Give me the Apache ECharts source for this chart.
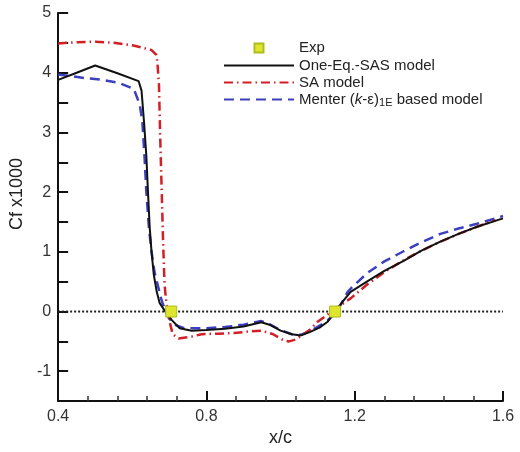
<!DOCTYPE html>
<html>
<head>
<meta charset="utf-8">
<script src="https://cdn.jsdelivr.net/npm/echarts@6/dist/echarts.min.js"></script>
<style>
html,body{margin:0;padding:0;background:#fff;}
#chart{width:520px;height:452px;}
</style>
</head>
<body>
<div id="chart"></div>
<script>
// ---- Data ----
const sasX = [0.40,0.45,0.50,0.56,0.617,0.625,0.632,0.638,0.642,0.647,0.652,0.658,0.666,0.674,0.687,0.706,0.728,0.76,0.80,0.85,0.90,0.948,0.97,1.00,1.03,1.055,1.08,1.105,1.127,1.149,1.168,1.189,1.235,1.28,1.332,1.38,1.431,1.48,1.53,1.60];
const sasY = [3.88,4.00,4.12,3.99,3.86,3.70,3.15,2.60,2.05,1.41,1.00,0.62,0.33,0.14,0.02,-0.14,-0.28,-0.32,-0.31,-0.29,-0.25,-0.18,-0.22,-0.32,-0.38,-0.40,-0.34,-0.27,-0.17,0.01,0.17,0.33,0.51,0.68,0.85,1.02,1.17,1.30,1.42,1.56];

const saX = [0.40,0.45,0.50,0.55,0.60,0.652,0.665,0.668,0.672,0.675,0.679,0.683,0.687,0.692,0.700,0.709,0.725,0.76,0.787,0.83,0.875,0.92,0.948,0.98,1.01,1.023,1.04,1.055,1.08,1.10,1.125,1.144,1.17,1.189,1.235,1.28,1.332,1.38,1.431,1.48,1.53,1.58];
const saY = [4.49,4.51,4.52,4.50,4.46,4.38,4.30,4.15,3.80,3.00,2.10,1.20,0.46,0.14,-0.15,-0.38,-0.45,-0.42,-0.38,-0.37,-0.36,-0.33,-0.32,-0.38,-0.49,-0.50,-0.47,-0.41,-0.30,-0.17,-0.06,0.03,0.14,0.22,0.46,0.66,0.86,1.02,1.17,1.30,1.42,1.53];

const menterX = [0.40,0.473,0.52,0.564,0.604,0.62,0.627,0.633,0.638,0.645,0.652,0.660,0.679,0.69,0.700,0.714,0.74,0.80,0.85,0.90,0.948,0.97,1.00,1.03,1.055,1.082,1.11,1.127,1.145,1.162,1.181,1.195,1.235,1.28,1.332,1.38,1.431,1.48,1.53,1.60];
const menterY = [3.97,3.91,3.88,3.83,3.73,3.47,3.20,2.60,2.00,1.40,1.00,0.66,0.19,0.00,-0.12,-0.22,-0.28,-0.28,-0.26,-0.22,-0.16,-0.21,-0.31,-0.38,-0.39,-0.32,-0.22,-0.15,-0.04,0.11,0.33,0.42,0.65,0.84,1.01,1.16,1.30,1.39,1.47,1.60];

const expX = [0.705, 1.147];
const expY = [0, 0];

const zeroX = [0.4, 1.6];
const zeroY = [0, 0];

const seriesNames = ['Exp', 'One-Eq.-SAS model', 'SA model', 'Menter (k-\u03b5)1E based model'];

const xMin = 0.4, xMax = 1.6, xInterval = 0.4;
const yMin = -1.5, yMax = 5, yInterval = 0.5;

// ---- Build ----
function pairs(xs, ys){ return xs.map((x,i)=>[x, ys[i]]); }

const FONT = '"Liberation Sans", Arial, Helvetica, sans-serif';
const chart = echarts.init(document.getElementById('chart'), null, {renderer:'canvas'});

const hiddenSymbol = { opacity: 0 };

const option = {
  animation: false,
  backgroundColor: '#ffffff',
  textStyle: { fontFamily: FONT },
  grid: { left: 56, right: 17, top: 13, bottom: 29, containLabel: false },
  legend: {
    orient: 'vertical',
    left: 223,
    top: 40,
    padding: 0,
    itemWidth: 70,
    itemHeight: 14,
    itemGap: 2,
    symbolKeepAspect: true,
    selectedMode: false,
    textStyle: {
      fontFamily: FONT, fontSize: 15, color: '#222',
      rich: {
        n: { fontFamily: FONT, fontSize: 15, color: '#222' },
        i: { fontFamily: FONT, fontSize: 15, color: '#222', fontStyle: 'italic' },
        sub: { fontFamily: FONT, fontSize: 11, color: '#222', padding: [6, 0, 0, 0] }
      }
    },
    formatter: function(name){
      if (name === seriesNames[3]) {
        return '{n|Menter (}{i|k}{n|-\u03b5)}{sub|1E}{n| based model}';
      }
      return name;
    },
    data: [
      { name: seriesNames[0], icon: 'path://M0,0M2.5,2.5L11.5,2.5L11.5,11.5L2.5,11.5Z M14,14' },
      { name: seriesNames[1], itemStyle: hiddenSymbol },
      { name: seriesNames[2], itemStyle: hiddenSymbol },
      { name: seriesNames[3], itemStyle: hiddenSymbol }
    ]
  },
  xAxis: {
    type: 'value',
    min: xMin, max: xMax, interval: xInterval,
    name: 'x/c', nameLocation: 'middle', nameGap: 13,
    nameTextStyle: { fontFamily: FONT, fontSize: 18, color: '#222' },
    axisLine: { show: true, onZero: false, lineStyle: { color: '#111', width: 2 } },
    axisTick: { show: true, inside: true, length: 10, lineStyle: { color: '#111', width: 2 } },
    minorTick: { show: true, splitNumber: 5, length: 5, lineStyle: { color: '#333', width: 1.5 } },
    splitLine: { show: false },
    axisLabel: {
      fontFamily: FONT, fontSize: 16, color: '#333', margin: 7,
      showMinLabel: true, showMaxLabel: true,
      formatter: v => v.toFixed(1)
    }
  },
  yAxis: {
    type: 'value',
    min: yMin, max: yMax, interval: yInterval,
    name: 'Cf x1000', nameLocation: 'middle', nameGap: 25,
    nameTextStyle: { fontFamily: FONT, fontSize: 18, color: '#222', padding: [0, 0, 0, 26] },
    axisLine: { show: true, onZero: false, lineStyle: { color: '#111', width: 2 } },
    axisTick: { show: true, inside: true, length: 10, lineStyle: { color: '#111', width: 2 } },
    splitLine: { show: false },
    axisLabel: {
      fontFamily: FONT, fontSize: 16, color: '#333', margin: 7,
      formatter: v => (Math.abs(v - Math.round(v)) < 1e-9 ? String(Math.round(v)) : '')
    }
  },
  series: [
    {
      name: 'zero', type: 'line', data: pairs(zeroX, zeroY), symbol: 'none', silent: true,
      lineStyle: { color: '#222', width: 2, type: [2, 2] }, z: 1
    },
    {
      name: seriesNames[1], type: 'line', data: pairs(sasX, sasY), symbol: 'none',
      lineStyle: { color: '#111', width: 2 }, itemStyle: { color: '#111' }, z: 4
    },
    {
      name: seriesNames[2], type: 'line', data: pairs(saX, saY), symbol: 'none',
      lineStyle: { color: '#d21f25', width: 2.5, type: [9, 4, 1.5, 4] }, itemStyle: { color: '#d21f25' }, z: 3
    },
    {
      name: seriesNames[3], type: 'line', data: pairs(menterX, menterY), symbol: 'none',
      lineStyle: { color: '#3b3fc0', width: 2.5, type: [10, 6] }, itemStyle: { color: '#3b3fc0' }, z: 2
    },
    {
      name: seriesNames[0], type: 'scatter', data: pairs(expX, expY), symbol: 'rect', symbolSize: 11,
      itemStyle: { color: '#dfe42c', borderColor: '#aebd1e', borderWidth: 1, opacity: 1 }, z: 5
    }
  ]
};
chart.setOption(option);
</script>
</body>
</html>
